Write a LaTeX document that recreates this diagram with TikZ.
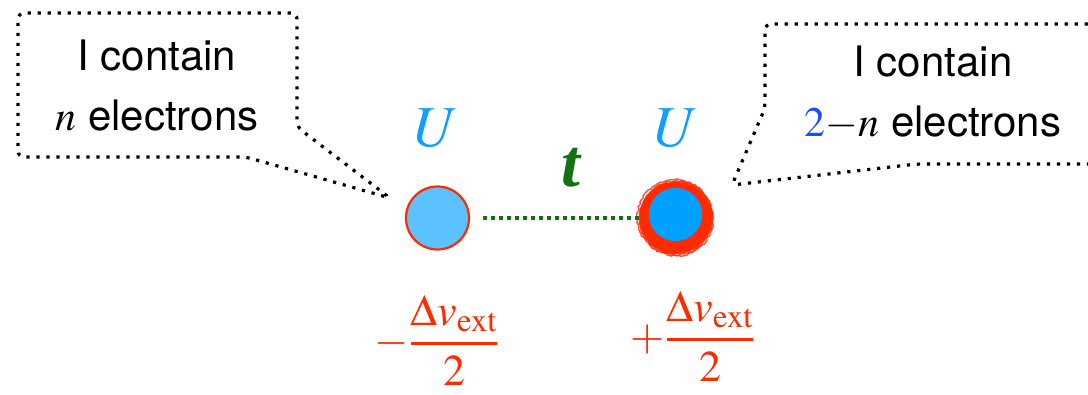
\documentclass[tikz,border=0pt]{standalone}
\usepackage{mathptmx}
\usepackage[no-math]{fontspec}
\setmainfont{TeX Gyre Heros}
\newfontfamily\timesit{Liberation Serif}
\usepackage{tikz}
\usepackage{xcolor}
\usetikzlibrary{calc,positioning,decorations.pathmorphing}
\definecolor{ink}{HTML}{000000}
\definecolor{hubcyan}{HTML}{0AA2FF}
\definecolor{sitelight}{HTML}{5CC1FF}
\definecolor{sitedeep}{HTML}{00A0FF}
\definecolor{ringred}{HTML}{FF2A00}
\definecolor{hopgreen}{HTML}{137313}
\definecolor{twoblue}{HTML}{1A4DFF}
\tikzset{
  bubble/.style={draw=ink,line width=1.6pt,dash pattern=on 1.6pt off 3.4pt,
                 rounded corners=3pt},
  bubbletext/.style={align=center,inner sep=0pt,
                     font=\fontsize{21}{30}\selectfont},
  litesite/.style={circle,draw=ringred,fill=sitelight,line width=1.1pt,
                   minimum size=31.5pt,inner sep=0pt},
  ringsite/.style={circle,fill=ringred,minimum size=36pt,inner sep=0pt},
  roughring/.style={draw=ringred,line width=0.7pt,opacity=0.8,
                    decorate,decoration={random steps,segment length=1.2pt,amplitude=0.45pt}},
  hubbard/.style={text=hubcyan,inner sep=0pt,font=\fontsize{29}{29}\selectfont},
  bondline/.style={draw=hopgreen,line width=2pt,dash pattern=on 2pt off 2pt,
                   shorten <=6.5pt},
  potential/.style={text=ringred,inner sep=0pt,font=\fontsize{22}{22}\selectfont}
}

\begin{document}
\begin{tikzpicture}[x=0.5pt,y=-0.5pt]
  \useasboundingbox (0,0) rectangle (1088,395);
  \clip (0,0) rectangle (1088,395);
  % speech bubbles
  \draw[bubble] (390,198) -- (246,157) -- (18,157) -- (18,13) -- (297,13)
    -- (297,127) -- cycle;
  \draw[bubble] (732,185) -- (917,164) -- (1110,164) -- (1110,24) -- (765,24)
    -- (765,108) -- cycle;
  \node[bubbletext] (lefttext) at (157,86) {I contain\\$n$ electrons};
  \node[bubbletext] (righttext) at (933,93)
    {I contain\\$\textcolor{twoblue}{2}\mathord{-}n$ electrons};
  % the two sites
  \node[litesite] (leftsite) at (437.5,218) {};
  \node[ringsite] (rightsite) at (675.5,218) {};
  \foreach \r/\dx/\dy in {17.6/0/0,18.4/0.5/-0.4,16.9/-0.4/0.5,18.8/-0.3/0.3,17.9/0.4/0.6,15.2/0.2/-0.6}
    \draw[roughring] ($(rightsite)+(\dx pt,\dy pt)$) circle (\r pt);
  \fill[sitedeep] ($(rightsite)+(0,-3.5)$) circle (13.3pt);
  \draw[bondline] (leftsite) -- (rightsite.west);
  \node[text=hopgreen,inner sep=0pt] (hop) at (571,168)
    {\fontsize{34}{34}\selectfont\timesit\bfseries\itshape t};
  \node[hubbard] (leftU) at (437,128) {$U$};
  \node[hubbard] (rightU) at (677,128) {$U$};
  \node[potential] (leftpot) at (437,340)
    {$\displaystyle -{\Delta v_{\mathrm{ext}} \above 1.4pt 2}$};
  \node[potential] (rightpot) at (693,336)
    {$\displaystyle +{\Delta v_{\mathrm{ext}} \above 1.4pt 2}$};
\end{tikzpicture}
\end{document}
